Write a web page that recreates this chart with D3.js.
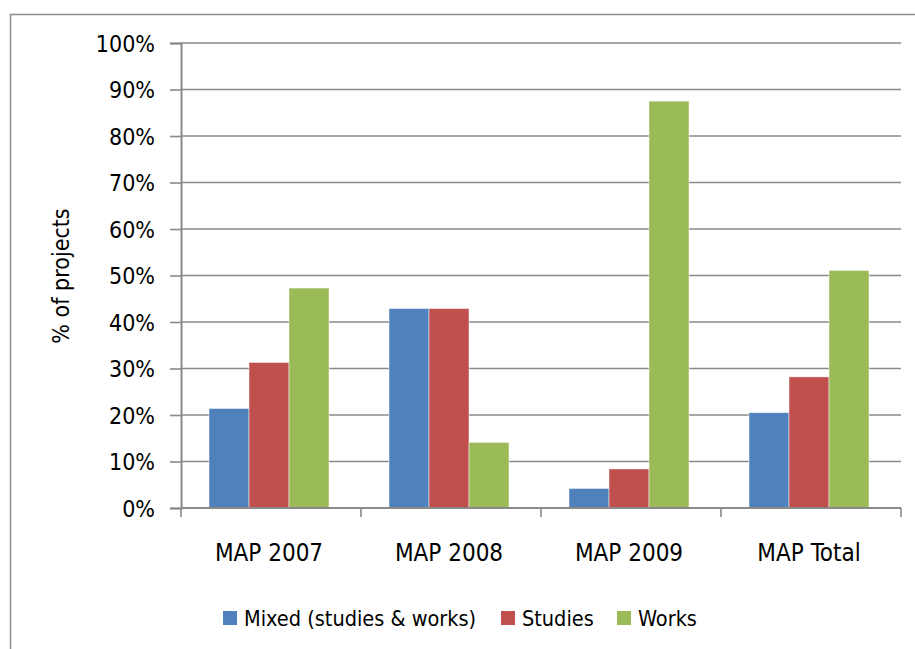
<!DOCTYPE html>
<html>
<head>
<meta charset="utf-8">
<script src="https://cdn.jsdelivr.net/npm/d3@7"></script>
<style>
  body { margin: 0; background: #fff; }
  text { font-family: "Liberation Sans Narrow", "DejaVu Sans Condensed", sans-serif; fill: #000; }
</style>
</head>
<body>
<svg id="chart" width="915" height="649"></svg>
<script>
// data
const categories = ["MAP 2007", "MAP 2008", "MAP 2009", "MAP Total"];
const seriesNames = ["Mixed (studies & works)", "Studies", "Works"];
const mixed = [21.4, 42.9, 4.2, 20.5];
const studies = [31.3, 42.9, 8.4, 28.2];
const works = [47.3, 14.1, 87.5, 51.1];
const yTicks = [0, 10, 20, 30, 40, 50, 60, 70, 80, 90, 100];
const colors = ["#4F81BD", "#C0504D", "#9BBB59"];

const values = [mixed, studies, works];
const rows = categories.map((c, i) => ({
  cat: c,
  vals: seriesNames.map((s, j) => ({ key: s, value: values[j][i], color: colors[j] }))
}));

const margin = { top: 43, right: 14, bottom: 141, left: 181 };
const width = 915 - margin.left - margin.right;
const height = 649 - margin.top - margin.bottom;

const svg = d3.select("#chart");

// outer chart border
svg.append("rect")
  .attr("x", 10.5).attr("y", 14.5)
  .attr("width", 940).attr("height", 700)
  .attr("fill", "none")
  .attr("stroke", "#8c8c8c")
  .attr("stroke-width", 1.5);

const g = svg.append("g")
  .attr("transform", "translate(" + margin.left + "," + margin.top + ")");

const x0 = d3.scaleBand()
  .domain(categories)
  .range([0, width])
  .paddingInner(1 / 3)
  .paddingOuter(1 / 6);

const x1 = d3.scaleBand()
  .domain(seriesNames)
  .range([0, x0.bandwidth()]);

const y = d3.scaleLinear()
  .domain([0, 100])
  .range([height, 0]);

// gridlines
g.append("g")
  .selectAll("line")
  .data(yTicks.slice(1))
  .enter()
  .append("line")
  .attr("x1", 0).attr("x2", width)
  .attr("y1", d => y(d)).attr("y2", d => y(d))
  .attr("stroke", "#8a8a8a")
  .attr("stroke-width", 1.6);

// bars
const groups = g.selectAll(".grp")
  .data(rows)
  .enter()
  .append("g")
  .attr("class", "grp")
  .attr("transform", d => "translate(" + (x0(d.cat) - 2) + ",0)");

groups.selectAll("rect")
  .data(d => d.vals)
  .enter()
  .append("rect")
  .attr("x", d => x1(d.key))
  .attr("y", d => y(d.value))
  .attr("width", x1.bandwidth())
  .attr("height", d => height - y(d.value))
  .attr("fill", d => d.color)
  .attr("stroke", "rgba(255,255,255,0.6)")
  .attr("stroke-width", 0.8);

// y axis
const yAxis = g.append("g")
  .call(d3.axisLeft(y).tickValues(yTicks).tickSize(11).tickPadding(15)
    .tickFormat(d => d + "%"));
yAxis.select(".domain").attr("stroke", "#8a8a8a").attr("stroke-width", 2);
yAxis.selectAll(".tick line").attr("stroke", "#8a8a8a").attr("stroke-width", 1.6);
yAxis.selectAll(".tick text").attr("font-size", 23).attr("dy", "0.36em")
  .style("font-family", "'Liberation Sans Narrow', 'DejaVu Sans Condensed', sans-serif");

// x axis
const xScaleTicks = d3.scaleLinear().domain([0, categories.length]).range([0, width]);
const xAxis = g.append("g")
  .attr("transform", "translate(0," + height + ")");
xAxis.append("line")
  .attr("x1", 0).attr("x2", width)
  .attr("stroke", "#8a8a8a").attr("stroke-width", 2.2);
xAxis.selectAll(".xt")
  .data(d3.range(categories.length + 1))
  .enter()
  .append("line")
  .attr("x1", d => xScaleTicks(d)).attr("x2", d => xScaleTicks(d))
  .attr("y1", 0).attr("y2", 9)
  .attr("stroke", "#8a8a8a").attr("stroke-width", 1.6);
xAxis.selectAll(".xl")
  .data(categories)
  .enter()
  .append("text")
  .attr("x", d => x0(d) + x0.bandwidth() / 2 - 2)
  .attr("y", 53)
  .attr("text-anchor", "middle")
  .attr("font-size", 24)
  .text(d => d);

// y axis title
svg.append("text")
  .attr("transform", "translate(69,276) rotate(-90)")
  .attr("text-anchor", "middle")
  .attr("font-size", 23)
  .text("% of projects");

// legend
const legendX = [223, 501, 617];
const legend = svg.append("g").selectAll("g")
  .data(seriesNames)
  .enter()
  .append("g")
  .attr("transform", (d, i) => "translate(" + legendX[i] + ",611)");
legend.append("rect")
  .attr("width", 14).attr("height", 14)
  .attr("fill", (d, i) => colors[i]);
legend.append("text")
  .attr("x", 21).attr("y", 15)
  .attr("font-size", 21.5)
  .text(d => d);
</script>
</body>
</html>
